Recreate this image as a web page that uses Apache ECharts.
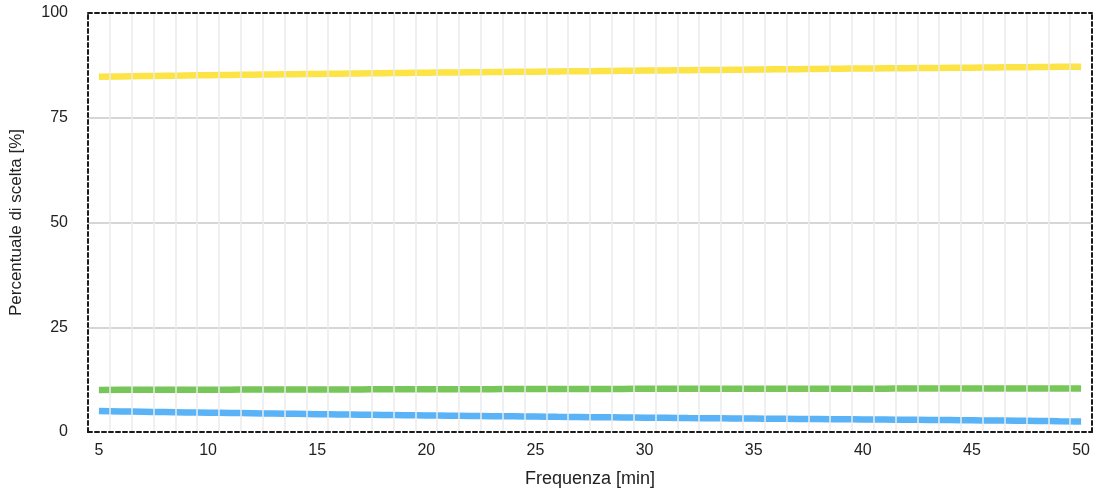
<!DOCTYPE html>
<html>
<head>
<meta charset="utf-8">
<script src="https://cdn.jsdelivr.net/npm/echarts@6/dist/echarts.min.js"></script>
<style>html,body{margin:0;padding:0;background:#fff}#c{width:1101px;height:493px}</style>
</head>
<body>
<div id="c"></div>
<script>
const categories = ['5','6','7','8','9','10','11','12','13','14','15','16','17','18','19','20','21','22','23','24','25','26','27','28','29','30','31','32','33','34','35','36','37','38','39','40','41','42','43','44','45','46','47','48','49','50'];
const yellowSeries = [84.80,84.87,84.94,85.01,85.08,85.15,85.21,85.27,85.33,85.39,85.45,85.51,85.57,85.63,85.69,85.75,85.80,85.85,85.90,85.95,86.00,86.05,86.10,86.15,86.20,86.25,86.30,86.35,86.40,86.45,86.50,86.55,86.60,86.65,86.70,86.75,86.79,86.83,86.87,86.91,86.95,87.00,87.05,87.10,87.15,87.20];
const greenSeries = [10.05,10.06,10.07,10.08,10.09,10.10,10.11,10.12,10.13,10.14,10.15,10.16,10.17,10.18,10.19,10.20,10.21,10.22,10.23,10.24,10.25,10.26,10.27,10.28,10.29,10.30,10.30,10.31,10.31,10.32,10.32,10.33,10.33,10.34,10.34,10.35,10.35,10.36,10.36,10.37,10.37,10.38,10.38,10.39,10.39,10.40];
const blueSeries = [5.00,4.92,4.84,4.76,4.68,4.61,4.54,4.47,4.40,4.33,4.26,4.20,4.14,4.08,4.02,3.96,3.90,3.84,3.78,3.73,3.68,3.62,3.57,3.52,3.47,3.42,3.38,3.33,3.29,3.24,3.20,3.16,3.12,3.08,3.04,3.00,2.96,2.92,2.88,2.84,2.80,2.74,2.69,2.63,2.57,2.52];
const yTicks = [0,25,50,75,100];

const chart = echarts.init(document.getElementById('c'), null, {renderer:'canvas'});
const font = 'Liberation Sans, Arial, sans-serif';
const dashed = {show:true, onZero:false, lineStyle:{color:'#1a1a1a', width:2, type:[4,3]}};
chart.setOption({
  animation:false,
  grid:{left:88, right:9, top:13, bottom:61, containLabel:false},
  xAxis:[{
    type:'category', data:categories, boundaryGap:true, position:'bottom',
    axisLine:dashed, axisTick:{show:false}, z:5,
    axisLabel:{interval:4, color:'#222', fontSize:16, fontFamily:font, margin:11},
    splitLine:{show:true, interval:0, showMinLine:false, showMaxLine:false, lineStyle:{color:'#ebebeb', width:1.5}},
    name:'Frequenza [min]', nameLocation:'middle', nameGap:38,
    nameTextStyle:{color:'#222', fontSize:18, fontFamily:font}
  },{
    type:'category', data:categories, position:'top', boundaryGap:true, z:5,
    axisLine:dashed, axisTick:{show:false}, axisLabel:{show:false}, splitLine:{show:false}
  }],
  yAxis:[{
    type:'value', min:yTicks[0], max:yTicks[yTicks.length-1], interval:25, position:'left', z:5,
    axisLine:dashed, axisTick:{show:false},
    axisLabel:{color:'#222', fontSize:16, fontFamily:font, margin:20},
    splitLine:{show:true, showMinLine:false, showMaxLine:false, lineStyle:{color:'#c8c8c8', width:1.5}},
    name:'Percentuale di scelta [%]', nameLocation:'middle', nameGap:63,
    nameTextStyle:{color:'#222', fontSize:17, fontFamily:font}
  },{
    type:'value', min:0, max:100, interval:25, position:'right', z:5,
    axisLine:dashed, axisTick:{show:false}, axisLabel:{show:false}, splitLine:{show:false}
  }],
  series:[
    {type:'line', data:yellowSeries, showSymbol:false, smooth:true, lineStyle:{color:'#fce446', width:6.5}, itemStyle:{color:'#fce446'}},
    {type:'line', data:greenSeries, showSymbol:false, smooth:true, lineStyle:{color:'#77c65a', width:6.5}, itemStyle:{color:'#77c65a'}},
    {type:'line', data:blueSeries, showSymbol:false, smooth:true, lineStyle:{color:'#5ab3f7', width:6.5}, itemStyle:{color:'#5ab3f7'}}
  ]
});
</script>
</body>
</html>
